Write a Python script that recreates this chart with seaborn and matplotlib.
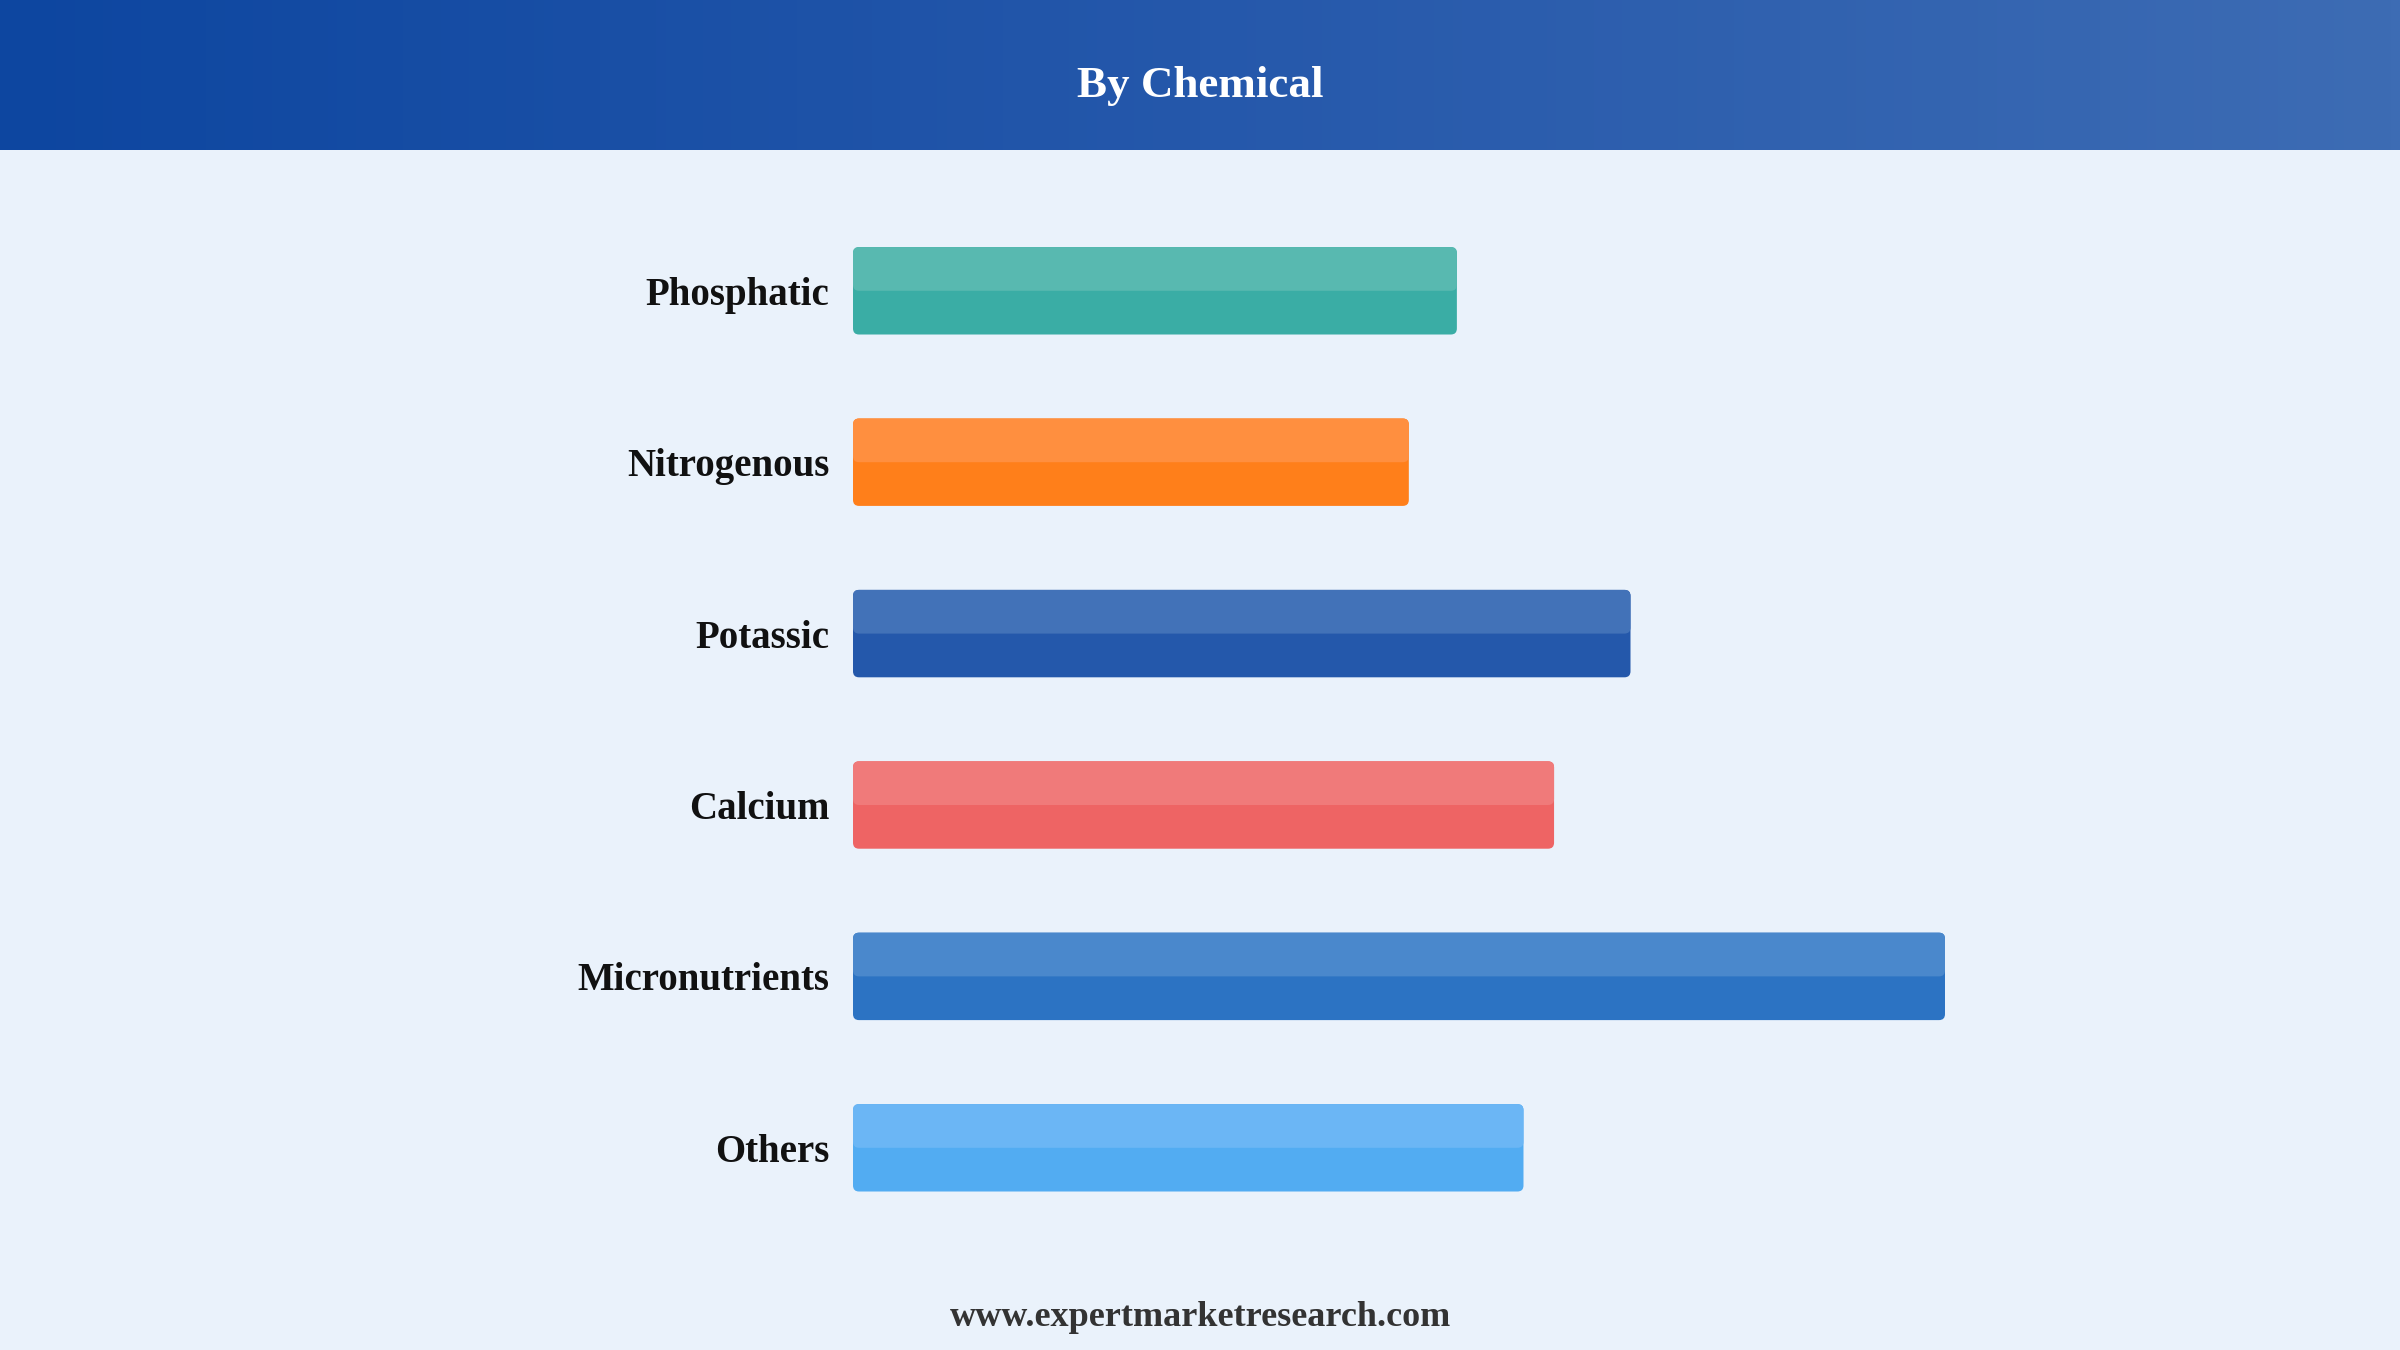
import numpy as np
import pandas as pd
import matplotlib
matplotlib.use("Agg")
import matplotlib.pyplot as plt
import seaborn as sns
from matplotlib.patches import FancyBboxPatch
from matplotlib.colors import LinearSegmentedColormap

categories = ["Phosphatic", "Nitrogenous", "Potassic", "Calcium", "Micronutrients", "Others"]
values = [5.53, 5.09, 7.12, 6.42, 10.0, 6.14]
base_colors = ["#3aada5", "#ff7f1a", "#2458ab", "#ee6464", "#2c73c3", "#52acf2"]
highlight_colors = ["#58b9b0", "#ff8f3f", "#4272b8", "#f07a7a", "#4a88cc", "#6bb6f5"]
title = "By Chemical"
footer = "www.expertmarketresearch.com"

sns.set_theme(style="white")
plt.rcParams['font.family'] = ['Liberation Serif', 'DejaVu Serif']

W, H = 2400, 1350
fig = plt.figure(figsize=(24, 13.5), dpi=100)
fig.patch.set_facecolor("#eaf2fb")

# header band with gradient
hh = 150
hax = fig.add_axes([0, 1 - hh / H, 1, hh / H])
grad = np.linspace(0, 1, 512).reshape(1, -1)
cmap = LinearSegmentedColormap.from_list("hdr", ["#0d46a0", "#2558ab", "#3d6cb4"])
hax.imshow(grad, aspect="auto", cmap=cmap, extent=[0, 1, 0, 1])
hax.set_axis_off()
hax.text(0.5, 0.43, title, ha="center", va="center", color="white",
         fontsize=32.5, fontweight="bold", transform=hax.transAxes)

# main bar axes
row = 171.4
top_px = 290.8 - row / 2
ax = fig.add_axes([853 / W, (H - (top_px + 6 * row)) / H, 1092 / W, 6 * row / H])
ax.set_facecolor("none")
df = pd.DataFrame({"category": categories, "value": values})
sns.barplot(data=df, x="value", y="category", hue="category", palette=base_colors,
            width=0.51, ax=ax, legend=False, orient="h")
ax.set_xlim(0, 10)
ax.set_ylim(5.5, -0.5)

r = 0.055
asp = 0.64
for p in list(ax.patches):
    x, y = p.get_x(), p.get_y()
    w, h = p.get_width(), p.get_height()
    idx = int(round(y + h / 2))
    p.set_visible(False)
    ax.add_patch(FancyBboxPatch((x, y), w, h,
                                boxstyle=f"round,pad=0,rounding_size={r}",
                                mutation_aspect=asp, linewidth=0,
                                facecolor=base_colors[idx], zorder=2))
    ax.add_patch(FancyBboxPatch((x, y), w, h / 2,
                                boxstyle=f"round,pad=0,rounding_size={r}",
                                mutation_aspect=asp, linewidth=0,
                                facecolor=highlight_colors[idx], zorder=3))

ax.set_xlabel("")
ax.set_ylabel("")
ax.set_xticks([])
ax.tick_params(axis="y", length=0, pad=17)
for lab in ax.get_yticklabels():
    lab.set_fontsize(28)
    lab.set_fontweight("bold")
    lab.set_color("#111111")
for s in ax.spines.values():
    s.set_visible(False)

fig.text(0.5, 1 - 1318 / H, footer, ha="center", va="center", fontsize=26,
         fontweight="bold", color="#333333")

fig.savefig("out.png", dpi=100, facecolor=fig.get_facecolor())
